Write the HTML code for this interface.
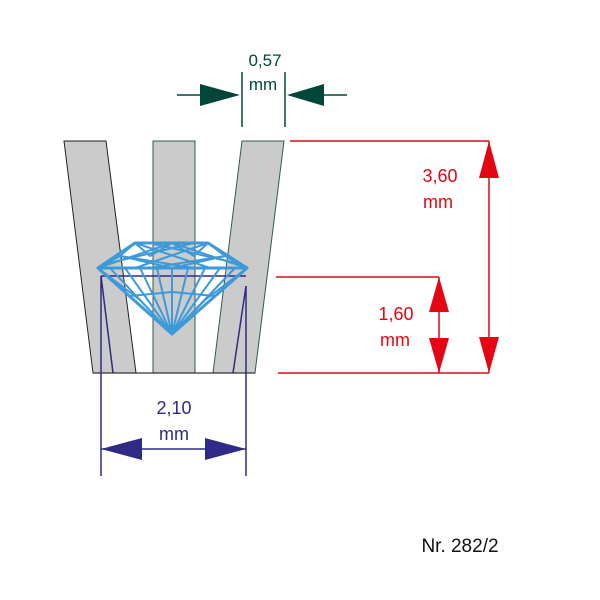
<!DOCTYPE html>
<html><head><style>html,body{margin:0;padding:0;background:#fff;}svg{display:block}</style></head>
<body>
<svg width="600" height="600" viewBox="0 0 600 600" xmlns="http://www.w3.org/2000/svg" font-family="Liberation Sans, sans-serif">
<polygon points="64,141 106,141 136,373 93,373" fill="#cccbcb" stroke="#222" stroke-width="1"/>
<polygon points="153,141 195,141 195,373 153,373" fill="#cccbcb" stroke="#2f5a55" stroke-width="1"/>
<polygon points="242,141 284,141 255,373 213,373" fill="#cccbcb" stroke="#2f5a55" stroke-width="1"/>
<line x1="93" y1="373" x2="255" y2="373" stroke="#333" stroke-width="1.2"/>
<g stroke="#2e2a85" stroke-width="1.5" fill="none">
<line x1="101" y1="276" x2="246" y2="276"/>
<line x1="101" y1="276" x2="101" y2="476"/>
<line x1="246" y1="286" x2="246" y2="476"/>
<line x1="101" y1="276" x2="113" y2="373"/>
<line x1="246" y1="286" x2="233" y2="373"/>
</g>
<g stroke="#3d9ad9" stroke-width="2" fill="none" stroke-linejoin="round">
<polygon points="98,268 135,243 208,243 247,268 172,334" stroke-width="3"/>
<line x1="98" y1="268" x2="247" y2="268" stroke-width="3"/>
<polyline points="98,268 120,256 135,243 150,256 172,243 194,256 208,243 225,256 247,268"/>
<polyline points="120,256 172,268 225,256"/>
<line x1="98" y1="268" x2="172" y2="243"/><line x1="247" y1="268" x2="172" y2="243"/>
<line x1="120" y1="256" x2="194" y2="268"/><line x1="225" y1="256" x2="150" y2="268"/>
<line x1="135" y1="243" x2="210" y2="268"/><line x1="208" y1="243" x2="135" y2="268"/>
<line x1="150" y1="243" x2="240" y2="264"/><line x1="194" y1="243" x2="105" y2="264"/>
<line x1="110" y1="268" x2="172" y2="334"/><line x1="125" y1="268" x2="172" y2="334"/>
<line x1="140" y1="268" x2="172" y2="334"/><line x1="157" y1="268" x2="172" y2="334"/>
<line x1="172" y1="268" x2="172" y2="334"/><line x1="188" y1="268" x2="172" y2="334"/>
<line x1="205" y1="268" x2="172" y2="334"/><line x1="220" y1="268" x2="172" y2="334"/>
<line x1="235" y1="268" x2="172" y2="334"/>
<polyline points="98,268 140,300 172,334 205,300 247,268"/>
<polyline points="130,296 172,292 215,296"/>
</g>
<g stroke="#00473a" stroke-width="1.5" fill="#00473a">
<line x1="242" y1="72" x2="242" y2="127"/>
<line x1="285" y1="72" x2="285" y2="127"/>
<line x1="177" y1="95" x2="200" y2="95"/>
<polygon points="200,84 240,95 200,106" stroke="none"/>
<line x1="324" y1="95" x2="347" y2="95"/>
<polygon points="324,84 287,95 324,106" stroke="none"/>
</g>
<text x="265" y="66" font-size="17" fill="#00473a" text-anchor="middle">0,57</text>
<text x="263" y="90" font-size="17" fill="#00473a" text-anchor="middle">mm</text>
<g stroke="#e30613" stroke-width="1.5" fill="#e30613">
<line x1="290" y1="141" x2="489" y2="141"/>
<line x1="276" y1="277" x2="439" y2="277"/>
<line x1="278" y1="373" x2="489" y2="373"/>
<line x1="489" y1="141" x2="489" y2="373"/>
<polygon points="489,141 499,178 479,178" stroke="none"/>
<polygon points="489,373 499,337 479,337" stroke="none"/>
<line x1="439" y1="277" x2="439" y2="373"/>
<polygon points="439,277 449,312 429,312" stroke="none"/>
<polygon points="439,373 449,338 429,338" stroke="none"/>
</g>
<text x="440" y="182" font-size="18" fill="#e30613" text-anchor="middle">3,60</text>
<text x="438" y="208" font-size="18" fill="#e30613" text-anchor="middle">mm</text>
<text x="396" y="320" font-size="18" fill="#e30613" text-anchor="middle">1,60</text>
<text x="395" y="346" font-size="18" fill="#e30613" text-anchor="middle">mm</text>
<g stroke="#2e2a85" stroke-width="1.5" fill="#2e2a85">
<line x1="101" y1="449" x2="246" y2="449"/>
<polygon points="101,449 142,438 142,460" stroke="none"/>
<polygon points="246,449 205,438 205,460" stroke="none"/>
</g>
<text x="174" y="414" font-size="18" fill="#2e2a85" text-anchor="middle">2,10</text>
<text x="174" y="440" font-size="18" fill="#2e2a85" text-anchor="middle">mm</text>
<text x="460" y="552" font-size="19" fill="#111" text-anchor="middle">Nr. 282/2</text>
</svg>
</body></html>
